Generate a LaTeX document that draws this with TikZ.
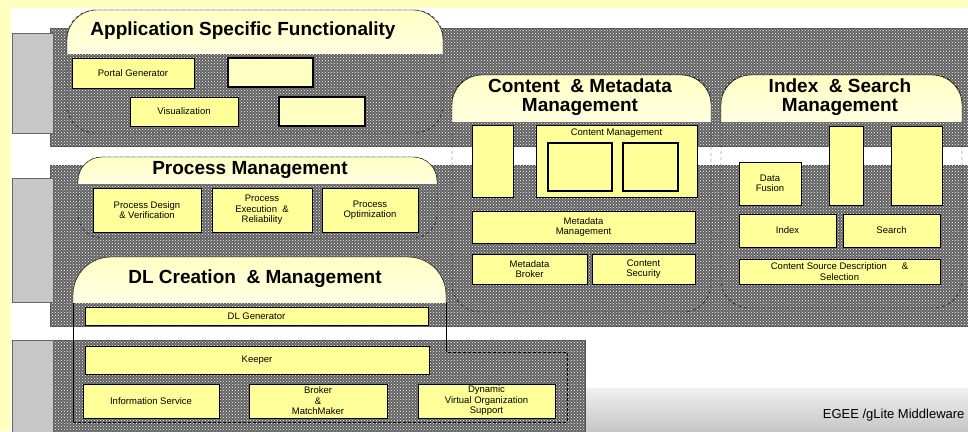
\documentclass[tikz,border=0pt]{standalone}
\usepackage{fontspec}
\setmainfont{Liberation Sans}
\usetikzlibrary{patterns}
\definecolor{pageyellow}{RGB}{255,255,192}
\definecolor{boxyellow}{RGB}{255,255,153}
\definecolor{paleyellow}{RGB}{255,255,196}

\begin{document}
\begin{tikzpicture}[x=1pt,y=-1pt,
    box/.style = {draw, fill=boxyellow, inner sep=1pt, align=center, font=\fontsize{9.5}{10.5}\selectfont},
    blank/.style = {draw, line width=1.2pt, fill=paleyellow, inner sep=0pt},
    hatch/.style = {draw=black!70, fill=black!62, postaction={pattern=crosshatch dots, pattern color=white}},
    tab/.style = {draw=black!60, fill=black!22},
    rim/.style = {dashed, rounded corners=28pt},
    bubblecap/.style = {draw, top color=paleyellow, bottom color=white},
    headline/.style = {align=center, font=\fontsize{19}{19.5}\selectfont\bfseries}]
        \clip (0,0) rectangle (968,431);
        % page
        \fill[pageyellow] (0,0) rectangle (968,431);
        \fill[white] (11,8) rectangle (968,431);
        \shade[top color=black!6, bottom color=black!22] (585,388) rectangle (968,431);
        \node[anchor=east, font=\fontsize{13}{15}\selectfont] (footer) at (968,415) {EGEE /gLite Middleware};
        % layers
        \path[hatch] (50,28) rectangle (975,146);
        \path[hatch] (50,165) rectangle (975,326);
        \path[hatch] (53,340) rectangle (585,440);
        \draw[tab] (12,33) rectangle (53,133);
        \draw[tab] (12,178) rectangle (53,302);
        \draw[tab] (12,340) rectangle (53,440);
        % bubbles
        \draw[rim] (67,10) rectangle (443,133);
        \draw[rim, rounded corners=24pt] (78,157) rectangle (437,238);
        \draw[rim] (452,75) rectangle (711,312);
        \draw[rim] (721,75) rectangle (962,308);
        \draw (73,302) -- (73,422);
        \draw[densely dashed] (73,422) -- (567,422) -- (567,352) -- (446,352);
        \draw (446,352) -- (446,302);
        \begin{scope}
            \clip (0,0) rectangle (968,53);
            \path[bubblecap, rounded corners=30pt] (67,10) rectangle (443,100);
        \end{scope}
        \begin{scope}
            \clip (0,0) rectangle (968,183);
            \path[bubblecap, rounded corners=24pt] (78,157) rectangle (437,215);
        \end{scope}
        \begin{scope}
            \clip (0,0) rectangle (968,302);
            \path[bubblecap, rounded corners=38pt] (73,257) rectangle (446,345);
        \end{scope}
        \begin{scope}
            \clip (0,0) rectangle (968,121);
            \path[bubblecap, rounded corners=30pt] (452,75) rectangle (711,170);
            \path[bubblecap, rounded corners=30pt] (721,75) rectangle (962,170);
        \end{scope}
        \node[headline] (asft) at (243,31) {Application Specific Functionality};
        \node[headline] (pmt) at (250,170) {Process Management};
        \node[headline] (dlt) at (255,279) {DL Creation \ \& Management};
        \node[headline] (cmt) at (580,97) {Content \ \& Metadata\\Management};
        \node[headline] (ist) at (840,97) {Index \ \& Search\\Management};
        % application specific functionality
        \node[box, minimum width=122, minimum height=30] (portal) at (133,73) {Portal Generator};
        \node[blank, minimum width=85, minimum height=29] (asfblank1) at (270.5,72.5) {};
        \node[box, minimum width=108, minimum height=29] (visual) at (184,111.5) {Visualization};
        \node[blank, minimum width=86, minimum height=29] (asfblank2) at (322,111.5) {};
        % process management
        \node[box, minimum width=108, minimum height=44] (design) at (147,210) {Process Design\\\& Verification};
        \node[box, minimum width=100, minimum height=44] (exec) at (262,210) {Process\\Execution \ \&\\Reliability};
        \node[box, minimum width=96, minimum height=44] (optim) at (370,210) {Process\\Optimization};
        % dl creation and management
        \node[box, minimum width=343, minimum height=18] (dlgen) at (256.5,316) {DL Generator};
        \node[box, minimum width=344, minimum height=28] (keeper) at (257,360) {Keeper};
        \node[box, minimum width=136, minimum height=34] (info) at (151,401) {Information Service};
        \node[box, minimum width=138, minimum height=34] (broker) at (318,401) {Broker\\\&\\MatchMaker};
        \node[box, minimum width=137, minimum height=34] (dvos) at (486.5,401) {Dynamic\\Virtual Organization\\Support};
        % content and metadata management
        \node[box, minimum width=41, minimum height=72] (cmtall) at (492.5,161) {};
        \node[box, minimum width=161, minimum height=72] (contmgmt) at (616.5,161) {};
        \node[box, draw=none, fill=none] (contname) at (616.5,133) {Content Management};
        \node[blank, fill=boxyellow, minimum width=64, minimum height=48] (cmsq1) at (580,167) {};
        \node[blank, fill=boxyellow, minimum width=55, minimum height=48] (cmsq2) at (650.5,167) {};
        \node[box, minimum width=223, minimum height=32] (metamgmt) at (583.5,227) {Metadata\\Management};
        \node[box, minimum width=115, minimum height=30] (metabroker) at (529.5,269) {Metadata\\Broker};
        \node[box, minimum width=103, minimum height=30] (contsec) at (643.5,269) {Content\\Security};
        % index and search management
        \node[box, minimum width=62, minimum height=43] (fusion) at (770,183.5) {Data\\Fusion};
        \node[box, minimum width=34, minimum height=79] (istall1) at (846,165.5) {};
        \node[box, minimum width=51, minimum height=79] (istall2) at (916.5,165.5) {};
        \node[box, minimum width=97, minimum height=33] (index) at (787.5,230.5) {Index};
        \node[box, minimum width=97, minimum height=33] (search) at (891.5,230.5) {Search};
        \node[box, minimum width=201, minimum height=25] (csds) at (839.5,271.5) {Content Source Description \quad\ \&\\Selection};
\end{tikzpicture}
\end{document}
